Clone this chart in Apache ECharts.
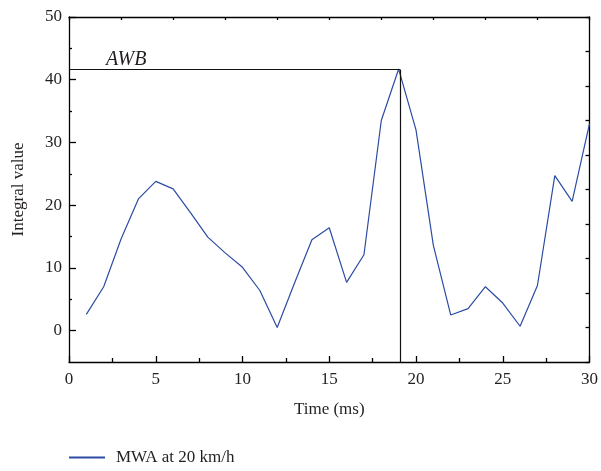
<!DOCTYPE html>
<html>
<head>
<meta charset="utf-8">
<script src="https://cdn.jsdelivr.net/npm/echarts@6/dist/echarts.min.js"></script>
<style>html,body{margin:0;padding:0;background:#fff}#c{width:601px;height:471px}</style>
</head>
<body>
<div id="c"></div>
<script>
const timeMs = [1,2,3,4,5,6,7,8,9,10,11,12,13,14,15,16,17,18,19,20,21,22,23,24,25,26,27,28,29,30];
const integralValues = [2.6,7.0,14.6,21.0,23.8,22.6,18.8,14.9,12.4,10.1,6.4,0.5,7.6,14.5,16.4,7.7,12.1,33.5,41.7,32.0,13.6,2.5,3.5,7.0,4.4,0.7,7.2,24.7,20.6,33.0];
const seriesName = 'MWA at 20 km/h';
const awbTime = 19.1;
const awbValue = 41.6;
const yLabelValues = [0,10,20,30,40,50];
const yMinorValues = [5,15,25,35,45];

const FONT = 'Liberation Serif';
const TXT = '#231f20';
const chart = echarts.init(document.getElementById('c'), null, {renderer:'canvas'});
const axisLine = {show:true, onZero:false, lineStyle:{color:'#000', width:1.3}};
const gridPos = {left:69, right:10, top:17, bottom:109};
chart.setOption({
  animation:false,
  backgroundColor:'#fff',
  grid:[Object.assign({}, gridPos), Object.assign({}, gridPos)],
  legend:{
    left:64, top:444, itemWidth:36, itemHeight:2, itemGap:10,
    icon:'rect',
    textStyle:{fontFamily:FONT, fontSize:17, color:TXT, padding:[0,0,0,6]},
    data:[seriesName]
  },
  xAxis:[
    {type:'value', gridIndex:0, position:'bottom', min:0, max:30, interval:5,
     axisLine:axisLine, splitLine:{show:false},
     axisTick:{show:true, inside:true, length:6, lineStyle:{color:'#000', width:1.3}},
     minorTick:{show:true, splitNumber:2, length:4, lineStyle:{color:'#000', width:1.3}},
     axisLabel:{fontFamily:FONT, fontSize:17, color:TXT, margin:9},
     name:'Time (ms)', nameLocation:'middle', nameGap:39,
     nameTextStyle:{fontFamily:FONT, fontSize:17, color:TXT}},
    {type:'value', gridIndex:0, position:'top', min:0, max:30, interval:3,
     axisLine:axisLine, splitLine:{show:false},
     axisTick:{show:true, inside:true, length:3, lineStyle:{color:'#000', width:1.3}},
     axisLabel:{show:false}},
    {type:'value', gridIndex:1, min:0, max:30, show:false}
  ],
  yAxis:[
    {type:'value', gridIndex:0, position:'left', min:-5, max:50, interval:5,
     axisLine:axisLine, splitLine:{show:false},
     axisTick:{show:true, inside:true, length:7, customValues:yLabelValues, lineStyle:{color:'#000', width:1.3}},
     axisLabel:{fontFamily:FONT, fontSize:17, color:TXT, margin:7, customValues:yLabelValues},
     name:'Integral value', nameLocation:'middle', nameGap:42,
     nameTextStyle:{fontFamily:FONT, fontSize:17, color:TXT}},
    {type:'value', gridIndex:0, position:'right', min:0, max:10, interval:1,
     axisLine:axisLine, splitLine:{show:false},
     axisTick:{show:true, inside:true, length:4, lineStyle:{color:'#000', width:1.3}},
     axisLabel:{show:false}},
    {type:'value', gridIndex:1, position:'left', min:-5, max:50, interval:5,
     axisLine:{show:false, onZero:false}, splitLine:{show:false},
     axisTick:{show:true, inside:true, length:3, customValues:yMinorValues, lineStyle:{color:'#000', width:1.3}},
     axisLabel:{show:false}}
  ],
  series:[{
    name:seriesName, type:'line', xAxisIndex:0, yAxisIndex:0,
    data:timeMs.map((t,i)=>[t, integralValues[i]]),
    showSymbol:false, symbol:'none',
    lineStyle:{color:'#2c4ba3', width:1.2}, itemStyle:{color:'#2c4ba3'},
    markLine:{
      silent:true, symbol:'none', animation:false,
      lineStyle:{color:'#111', width:1.2, type:'solid'},
      data:[
        [{coord:[0, awbValue], label:{show:true, formatter:'AWB', position:'insideStartTop', distance:[37,0],
          fontFamily:FONT, fontStyle:'italic', fontSize:20, color:TXT}},
         {coord:[awbTime, awbValue]}],
        [{coord:[awbTime, awbValue], label:{show:false}}, {coord:[awbTime, -5]}]
      ]
    }
  }]
});
</script>
</body>
</html>
